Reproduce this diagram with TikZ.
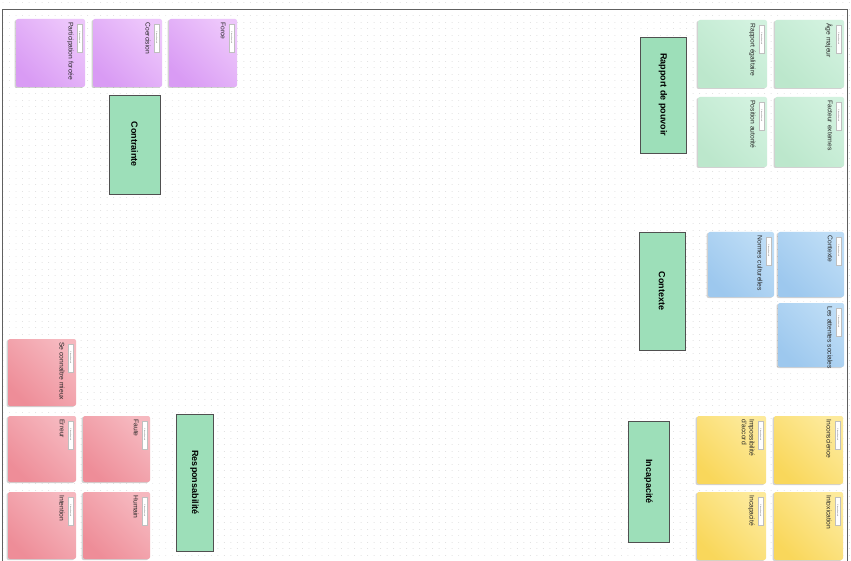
\documentclass[tikz,border=0pt]{standalone}
\usepackage{fontspec}
\setmainfont{Liberation Sans}
\usetikzlibrary{shadows}
\definecolor{purL}{HTML}{EDC6FB}
\definecolor{purD}{HTML}{D99BF4}
\definecolor{lgrL}{HTML}{D2F2DF}
\definecolor{lgrD}{HTML}{BCE7CC}
\definecolor{bluL}{HTML}{BEDDF6}
\definecolor{bluD}{HTML}{9DC8EE}
\definecolor{yelL}{HTML}{FDEA9B}
\definecolor{yelD}{HTML}{F9D75B}
\definecolor{pnkL}{HTML}{F6B8BF}
\definecolor{pnkD}{HTML}{EE8D98}
\definecolor{gboxfill}{HTML}{9DDFB9}
\definecolor{gboxline}{HTML}{505050}
\definecolor{framec}{HTML}{606060}
\definecolor{dotc}{HTML}{DCDCDC}
\tikzset{
  sticky/.style={draw=none, rounded corners=2pt, top color=#1L, bottom color=#1D, shading angle=-45,
    drop shadow={shadow xshift=-1.5pt, shadow yshift=-1pt, opacity=0.18, fill=black}},
  tagbox/.style={rotate=-90, draw=black!25, fill=white, line width=0.2pt, minimum width=28pt,
    minimum height=5pt, inner sep=0pt, font=\fontsize{1.8}{2}\selectfont, text=black!60},
  stxt/.style={rotate=-90, anchor=north west, inner sep=0pt, font=\fontsize{6.7}{7.6}\selectfont,
    align=left, text=black!85},
  gbox/.style={draw=gboxline, fill=gboxfill, line width=0.8pt, inner sep=0pt},
  gtxt/.style={rotate=-90, font=\bfseries\fontsize{9}{11}\selectfont, inner sep=0pt, text=black},
}
\newcommand{\stk}[7]{%
  \node[sticky=#6, minimum width={(#4-#2)*1pt}, minimum height={(#5-#3)*1pt}] (#1) at ({(#2+#4)/2},{(#3+#5)/2}) {};
  \node[tagbox] (#1t) at ([xshift=-5.5pt,yshift=-19pt]#1.north east) {Classe Anatole};
  \node[stxt] (#1l) at ([xshift=-11.5pt,yshift=-3.5pt]#1.north east) {#7};
}
\newcommand{\gbx}[6]{%
  \node[gbox, minimum width={(#4-#2)*1pt}, minimum height={(#5-#3)*1pt}] (#1) at ({(#2+#4)/2},{(#3+#5)/2}) {};
  \node[gtxt] (#1l) at (#1.center) {#6};
}
\begin{document}
\begin{tikzpicture}[x=1pt,y=-1pt]
\useasboundingbox (0,0) rectangle (851,561);
\fill[white] (0,0) rectangle (851,561);
% dot grid
\foreach \yy in {2.5,9,...,561}
  \draw[dotc, line width=0.9pt, line cap=round, dash pattern=on 0.01pt off 6.5pt] (3,\yy) -- (851,\yy);
% frame
\draw[framec, line width=0.9pt] (2,561) -- (2,9) -- (847,9) -- (847,561);

% Contrainte group
\stk{pf}{16}{19}{85}{87}{pur}{Participation forcée}
\stk{co}{93}{19}{162}{87}{pur}{Coercision}
\stk{fo}{169}{19}{237}{87}{pur}{Force}
\gbx{contrainte}{109}{95}{160}{194}{Contrainte}

% Rapport de pouvoir group
\stk{re}{698}{20}{767}{88}{lgr}{Rapport égalitaire}
\stk{am}{775}{20}{844}{88}{lgr}{Âge majeur}
\stk{pa}{698}{97}{767}{167}{lgr}{Position autorité}
\stk{fe}{775}{97}{844}{167}{lgr}{Facteur externes}
\gbx{rapport}{640}{37}{686}{153}{Rapport de pouvoir}

% Contexte group
\stk{nc}{708}{232}{774}{297}{blu}{Normes culturelles}
\stk{cx}{778}{232}{844}{297}{blu}{Contexte}
\stk{as}{778}{303}{844}{367}{blu}{Les attentes sociales}
\gbx{contexte}{639}{232}{685}{350}{Contexte}

% Incapacite group
\stk{ia}{697}{416}{766}{484}{yel}{Impossibilité\\d'accord}
\stk{inc}{774}{416}{843}{484}{yel}{Inconscience}
\stk{ic}{697}{492}{766}{560}{yel}{Incapacité}
\stk{ix}{774}{492}{843}{560}{yel}{Intoxication}
\gbx{incapacite}{628}{421}{669}{542}{Incapacité}

% Responsabilite group
\stk{sm}{8}{339}{76}{406}{pnk}{Se connaître mieux}
\stk{er}{8}{416}{76}{482}{pnk}{Erreur}
\stk{fa}{83}{416}{150}{482}{pnk}{Faute}
\stk{it}{8}{492}{76}{559}{pnk}{Intention}
\stk{hu}{83}{492}{150}{559}{pnk}{Humain}
\gbx{responsabilite}{176}{414}{213}{551}{Responsabilité}
\end{tikzpicture}
\end{document}
